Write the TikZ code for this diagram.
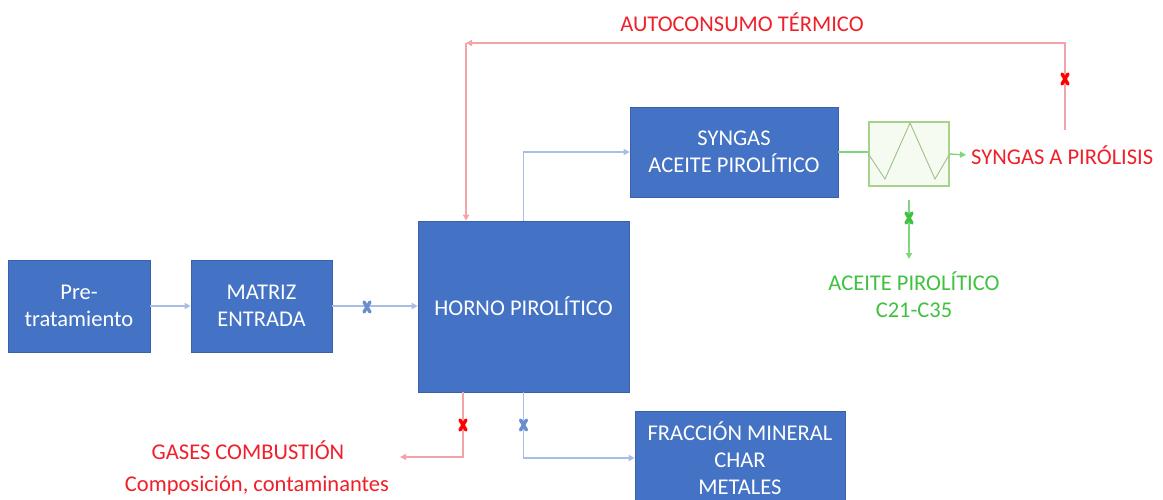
\documentclass[tikz,border=0pt]{standalone}
\usepackage{fontspec}
\setmainfont{Carlito}
\usetikzlibrary{arrows.meta}
\definecolor{boxblue}{HTML}{4472C4}
\definecolor{lineblue}{HTML}{A9BEE6}
\definecolor{redtxt}{HTML}{F0202A}
\definecolor{redline}{HTML}{F4A3A8}
\definecolor{grtxt}{HTML}{3FC23F}
\definecolor{grline}{HTML}{7ED67E}
\definecolor{hxfill}{HTML}{F6FBF1}
\definecolor{hxdraw}{HTML}{A6D28A}
\tikzset{
  box/.style={fill=boxblue, draw=boxblue!85!black, line width=0.6pt, text=white, align=center, inner sep=0pt,
    font=\fontsize{22.5}{27}\selectfont},
  lbl/.style={align=center, inner sep=0pt, font=\fontsize{22.5}{27}\selectfont},
  tip/.style={-{Triangle[length=6pt,width=6pt]}},
  bl/.style={draw=lineblue, line width=1.4pt},
  rd/.style={draw=redline, line width=1.4pt},
  gr/.style={draw=grline, line width=1.4pt},
  xm/.pic={\draw[line width=3.4pt, line cap=round] (-3,-5)--(3,5) (-3,5)--(3,-5);}
}
\begin{document}
\begin{tikzpicture}[x=1pt,y=-1pt]
\useasboundingbox (0,0) rectangle (1163,500);
\fill[white] (0,0) rectangle (1163,500);
% boxes
\node[box, minimum width=142pt, minimum height=92pt] (pre) at (79,306) {Pre-\\tratamiento};
\node[box, minimum width=141pt, minimum height=92pt] (mat) at (261.5,306) {MATRIZ\\ENTRADA};
\node[box, minimum width=211pt, minimum height=171pt] (horno) at (523.5,306.5) {HORNO PIROLÍTICO};
\node[box, minimum width=208pt, minimum height=90pt] (syn) at (734,152) {SYNGAS\\ACEITE PIROLÍTICO};
\node[box, minimum width=210pt, minimum height=94pt] (frac) at (740,458) {FRACCIÓN MINERAL\\CHAR\\METALES};
% heat exchanger
\node[draw=hxdraw, fill=hxfill, line width=1.2pt, minimum width=80pt, minimum height=64pt, inner sep=0pt] (hx) at (909,154) {};
\draw[draw=hxdraw!80!gray, line width=0.9pt] (hx.west) -- (885,179) -- (910,123) -- (935,179) -- (hx.east);
% labels
\node[lbl, text=redtxt] (auto) at (742,22) {AUTOCONSUMO TÉRMICO};
\node[lbl, text=redtxt, anchor=west] (synpir) at (971,155) {SYNGAS A PIRÓLISIS};
\node[lbl, text=grtxt, anchor=north] (ace) at (914,272) {ACEITE PIROLÍTICO\\C21-C35};
\node[lbl, text=redtxt] (gases) at (248,450) {GASES COMBUSTIÓN};
\node[lbl, text=redtxt] (comp) at (257,486) {Composición, contaminantes};
% coordinates
\coordinate (rstart) at (1065,130);
\coordinate (rcorner) at (466,43);
\coordinate (gend) at (400,457);
\coordinate (hxs) at (909,200);
\coordinate (aceend) at (909,259);
% connectors
\draw[bl, tip] (pre.east) -- (mat.west);
\draw[bl, tip] (mat.east) -- (mat.east -| horno.west);
\draw[bl, tip] (horno.north) |- (syn.west);
\draw[gr] (syn.east) -- (syn.east -| hx.west);
\draw[gr, tip] (hx.east) -- ([xshift=-5pt]synpir.west);
\draw[gr, tip] (hxs) -- (aceend);
\draw[rd, tip] (rstart) |- (rcorner);
\draw[rd, tip] (rcorner) -- (rcorner |- horno.north);
\draw[rd, tip] ([xshift=-60.5pt]horno.south) |- (gend);
\draw[bl, tip] (horno.south) |- (frac.west);
% markers
\pic[draw=boxblue!80!white] at (367,307) {xm};
\pic[draw=grtxt] at (909,218) {xm};
\pic[draw=red] at (1065,79) {xm};
\pic[draw=red] at (463,425) {xm};
\pic[draw=boxblue!80!white] at (523.5,425) {xm};
\end{tikzpicture}
\end{document}
